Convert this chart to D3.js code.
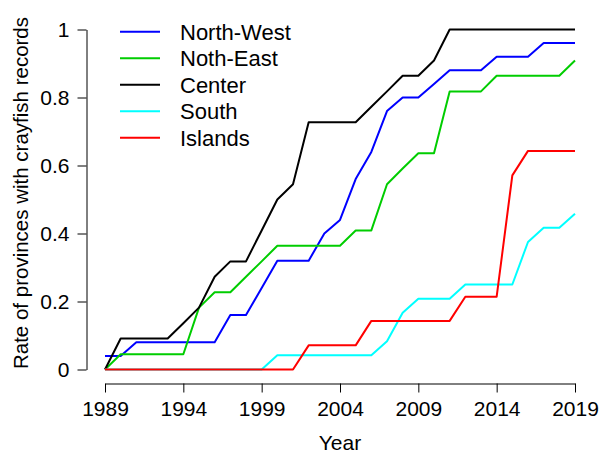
<!DOCTYPE html>
<html>
<head>
<meta charset="utf-8">
<script src="https://cdn.jsdelivr.net/npm/d3@7"></script>
<style>
  html, body { margin: 0; padding: 0; background: #fff; }
  svg { display: block; font-family: "Liberation Sans", Arial, sans-serif; }
</style>
</head>
<body>
<svg id="chart" width="608" height="453"></svg>
<script>
const years = [1989,1990,1991,1992,1993,1994,1995,1996,1997,1998,1999,2000,2001,2002,2003,2004,2005,2006,2007,2008,2009,2010,2011,2012,2013,2014,2015,2016,2017,2018,2019];

const northWest = [0.04,0.04,0.08,0.08,0.08,0.08,0.08,0.08,0.16,0.16,0.24,0.32,0.32,0.32,0.40,0.44,0.56,0.64,0.76,0.80,0.80,0.84,0.88,0.88,0.88,0.92,0.92,0.92,0.96,0.96,0.96];
const northEast = [0,0.045,0.045,0.045,0.045,0.045,0.182,0.227,0.227,0.273,0.318,0.364,0.364,0.364,0.364,0.364,0.409,0.409,0.545,0.591,0.636,0.636,0.818,0.818,0.818,0.864,0.864,0.864,0.864,0.864,0.909];
const center    = [0,0.091,0.091,0.091,0.091,0.136,0.182,0.273,0.318,0.318,0.409,0.5,0.545,0.727,0.727,0.727,0.727,0.773,0.818,0.864,0.864,0.909,1,1,1,1,1,1,1,1,1];
const south     = [0,0,0,0,0,0,0,0,0,0,0,0.042,0.042,0.042,0.042,0.042,0.042,0.042,0.083,0.167,0.208,0.208,0.208,0.25,0.25,0.25,0.25,0.375,0.417,0.417,0.458];
const islands   = [0,0,0,0,0,0,0,0,0,0,0,0,0,0.071,0.071,0.071,0.071,0.143,0.143,0.143,0.143,0.143,0.143,0.214,0.214,0.214,0.571,0.643,0.643,0.643,0.643];

const seriesNames = ["North-West","Noth-East","Center","South","Islands"];
const seriesValues = [northWest, northEast, center, south, islands];
const seriesColors = ["#0000FF","#00CD00","#000000","#00FFFF","#FF0000"];

const xTicks = [1989,1994,1999,2004,2009,2014,2019];
const yTicks = [0,0.2,0.4,0.6,0.8,1];
const xTitle = "Year";
const yTitle = "Rate of provinces with crayfish records";

const svg = d3.select("#chart");
const x = d3.scaleLinear().domain([1989,2019]).range([105,575]);
const y = d3.scaleLinear().domain([0,1]).range([369.5,29.5]);
const FS = 21;

// Y axis
const yAxis = svg.append("g")
  .attr("transform","translate(86.5,0)")
  .call(d3.axisLeft(y).tickValues(yTicks).tickFormat(d3.format("")).tickSizeOuter(0).tickSizeInner(9).tickPadding(8));
// X axis
const xAxis = svg.append("g")
  .attr("transform","translate(0,383.5)")
  .call(d3.axisBottom(x).tickValues(xTicks).tickFormat(d3.format("d")).tickSizeOuter(0).tickSizeInner(9).tickPadding(9));
[yAxis, xAxis].forEach(g => {
  g.selectAll("path.domain").attr("stroke","#000").attr("stroke-width",1);
  g.selectAll(".tick line").attr("stroke","#000").attr("stroke-width",1);
  g.selectAll(".tick text").attr("fill","#000").style("font-size",FS+"px").style("font-family","'Liberation Sans', Arial, sans-serif");
});

// Titles
svg.append("text").attr("x",340).attr("y",450).attr("text-anchor","middle")
  .style("font-size",FS+"px").attr("fill","#000").text(xTitle);
svg.append("text").attr("transform","translate(28,193) rotate(-90)").attr("text-anchor","middle")
  .style("font-size","20.5px").attr("fill","#000").text(yTitle);

// Lines
const line = d3.line().x((d,i) => x(years[i])).y(d => y(d));
seriesValues.forEach((vals, k) => {
  svg.append("path").datum(vals)
    .attr("d", line)
    .attr("fill","none")
    .attr("stroke", seriesColors[k])
    .attr("stroke-width", 2)
    .attr("stroke-linejoin","round");
});

// Legend
const legend = svg.append("g");
seriesNames.forEach((name, k) => {
  const ly = 31.7 + k*26.5;
  legend.append("line").attr("x1",120).attr("x2",160).attr("y1",ly).attr("y2",ly)
    .attr("stroke",seriesColors[k]).attr("stroke-width",2);
  legend.append("text").attr("x",180).attr("y",ly).attr("dy","0.36em")
    .style("font-size","22px").attr("fill","#000").text(name);
});
</script>
</body>
</html>
